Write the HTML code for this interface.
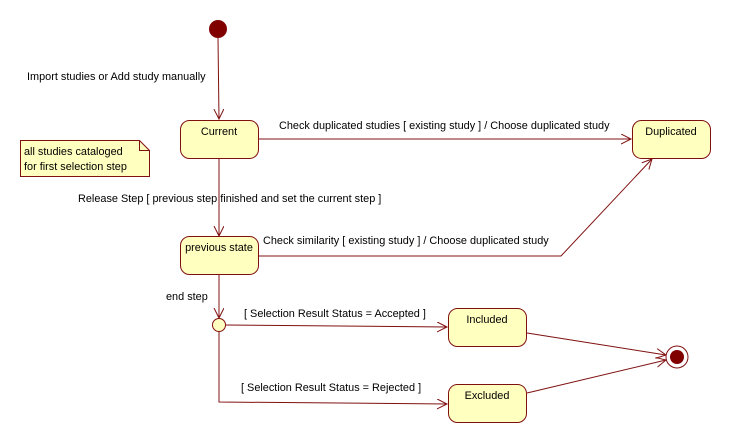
<!DOCTYPE html>
<html><head><style>body{margin:0;background:#fff}svg{display:block}text{font-family:"Liberation Sans",sans-serif;font-size:10.9px;fill:#000}</style></head><body>
<svg width="731" height="443" viewBox="0 0 731 443">
<defs><marker id="a" markerWidth="12" markerHeight="12" refX="10" refY="5" orient="auto" markerUnits="userSpaceOnUse"><path d="M0,0 L10,5 L0,10" fill="none" stroke="#801010" stroke-width="1"/></marker></defs>
<g stroke="#801010" stroke-width="1" fill="none">
<line x1="218" y1="38" x2="219" y2="119" marker-end="url(#a)"/>
<line x1="258" y1="139" x2="631" y2="139" marker-end="url(#a)"/>
<line x1="219" y1="158" x2="219" y2="236" marker-end="url(#a)"/>
<polyline points="258,256 561,256 652,159" marker-end="url(#a)"/>
<line x1="219" y1="274" x2="219" y2="318" marker-end="url(#a)"/>
<line x1="226" y1="325" x2="447" y2="327" marker-end="url(#a)"/>
<polyline points="219,332 219,402 447,404" marker-end="url(#a)"/>
<line x1="527" y1="333" x2="666" y2="355" marker-end="url(#a)"/>
<line x1="527" y1="393" x2="666" y2="360" marker-end="url(#a)"/>
</g>
<circle cx="218" cy="29" r="9" fill="#800000"/>
<g fill="#ffffc0" stroke="#801010">
<rect x="180.5" y="120.5" width="78" height="38" rx="9"/>
<rect x="632.5" y="120.5" width="78" height="38" rx="9"/>
<rect x="180.5" y="236.5" width="78" height="38" rx="9"/>
<rect x="448.5" y="308.5" width="78" height="38" rx="9"/>
<rect x="448.5" y="384.5" width="78" height="38" rx="9"/>
<circle cx="219" cy="325" r="6.5"/>
<path d="M20.5,140.5 H139.5 L149.5,150.5 V176.5 H20.5 Z"/>
<path d="M139.5,140.5 V150.5 H149.5" fill="none"/>
</g>
<circle cx="677" cy="357" r="11" fill="#fff" stroke="#801010"/>
<circle cx="677" cy="357" r="7" fill="#800000"/>
<text x="219" y="135" text-anchor="middle">Current</text>
<text x="671" y="135" text-anchor="middle">Duplicated</text>
<text x="219" y="251" text-anchor="middle">previous state</text>
<text x="487" y="323" text-anchor="middle">Included</text>
<text x="487" y="399" text-anchor="middle">Excluded</text>
<text x="24" y="155">all studies cataloged</text>
<text x="24" y="170">for first selection step</text>
<text x="27" y="80">Import studies or Add study manually</text>
<text x="279" y="129">Check duplicated studies [ existing study ] / Choose duplicated study</text>
<text x="78" y="202">Release Step [ previous step finished and set the current step ]</text>
<text x="263" y="244">Check similarity [ existing study ] / Choose duplicated study</text>
<text x="166" y="300">end step</text>
<text x="244" y="317">[ Selection Result Status = Accepted ]</text>
<text x="241" y="391">[ Selection Result Status = Rejected ]</text>
</svg>
</body></html>
